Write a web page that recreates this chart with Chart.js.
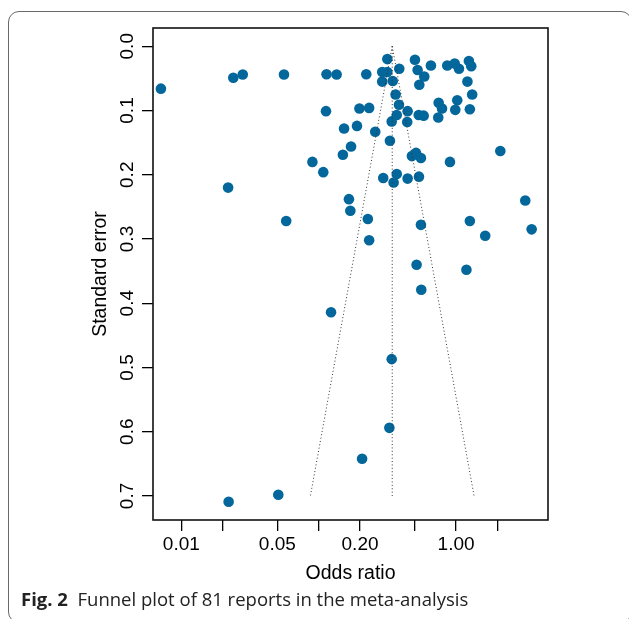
<!DOCTYPE html>
<html>
<head>
<meta charset="utf-8">
<script src="https://cdn.jsdelivr.net/npm/chart.js@4"></script>
<style>
  html, body { margin: 0; padding: 0; background: #fff; overflow: hidden; }
  #page { position: relative; width: 629px; height: 619px; overflow: hidden; }
  #frame {
    position: absolute; left: 8px; top: 11px; width: 624px; height: 612px;
    box-sizing: border-box; border: 1.3px solid #6a6a6a; border-radius: 11px;
  }
  #chart { position: absolute; left: 0; top: 0; }
  #caption {
    position: absolute; left: 21px; top: 590px; white-space: nowrap;
    font-family: "Open Sans", "Noto Sans", sans-serif; font-size: 18.5px; line-height: 18px; color: #222;
  }
  #caption b { font-weight: 700; }
</style>
</head>
<body>
<div id="page">
  <div id="frame"></div>
  <canvas id="chart" width="629" height="590"></canvas>
  <div id="caption"><b>Fig. 2</b>&nbsp; Funnel plot of 81 reports in the meta-analysis</div>
</div>
<script>
// Odds ratio and standard error of each report
const oddsRatios = [
  0.0071, 0.0239, 0.028, 0.0559, 0.114, 0.135, 0.222, 0.316, 0.386, 0.29,
  0.316, 0.29, 0.346, 0.363, 0.384, 0.37, 0.34, 0.444, 0.441, 0.33,
  0.502, 0.525, 0.587, 0.54, 0.656, 0.863, 0.977, 1.05, 1.24, 1.29,
  1.21, 1.31, 0.747, 0.79, 1.02, 0.987, 1.26, 0.535, 0.581, 0.742,
  0.113, 0.198, 0.233, 0.153, 0.19, 0.258, 0.172, 0.15, 0.09, 0.108,
  0.0219, 2.1, 0.903, 0.477, 0.511, 0.555, 0.295, 0.37, 0.351, 0.444,
  0.537, 3.19, 0.166, 0.17, 0.058, 0.228, 0.233, 0.555, 1.26, 3.55,
  1.63, 0.516, 1.19, 0.558, 0.123, 0.34, 0.327, 0.207, 0.0508, 0.0221
];
const standardErrors = [
  0.066, 0.049, 0.044, 0.044, 0.0435, 0.044, 0.0435, 0.02, 0.035, 0.04,
  0.04, 0.055, 0.054, 0.075, 0.091, 0.107, 0.117, 0.101, 0.118, 0.147,
  0.021, 0.037, 0.047, 0.06, 0.03, 0.03, 0.027, 0.035, 0.023, 0.031,
  0.055, 0.075, 0.088, 0.097, 0.084, 0.099, 0.098, 0.107, 0.108, 0.111,
  0.101, 0.097, 0.096, 0.128, 0.124, 0.133, 0.156, 0.169, 0.18, 0.196,
  0.22, 0.163, 0.18, 0.171, 0.166, 0.174, 0.205, 0.199, 0.212, 0.206,
  0.203, 0.24, 0.238, 0.256, 0.272, 0.269, 0.302, 0.278, 0.272, 0.285,
  0.295, 0.34, 0.348, 0.379, 0.414, 0.487, 0.594, 0.642, 0.698, 0.709
];

// Funnel (pooled estimate and 95% limits)
const funnelSE = [0, 0.70];
const funnelCenterOR = [0.343, 0.343];
const funnelLowerOR = [0.343, 0.087];
const funnelUpperOR = [0.343, 1.353];

// Axes
const xTickValues = [0.01, 0.02, 0.05, 0.1, 0.2, 0.5, 1, 2];
const xTickLabels = ["0.01", "", "0.05", "", "0.20", "", "1.00", ""];
const yTickValues = [0, 0.1, 0.2, 0.3, 0.4, 0.5, 0.6, 0.7];
const yTickLabels = ["0.0", "0.1", "0.2", "0.3", "0.4", "0.5", "0.6", "0.7"];

const axisFont = { family: "'Liberation Sans', Arial, sans-serif", size: 19 };
const titleFont = { family: "'Liberation Sans', Arial, sans-serif", size: 19.5 };

function toPoints(xs, ys) {
  return xs.map((x, i) => ({ x: x, y: ys[i] }));
}

const dotted = {
  type: "scatter",
  showLine: true,
  pointRadius: 0,
  borderColor: "#333",
  borderWidth: 1,
  borderDash: [1, 2.4],
  fill: false,
};

// Caixa em volta da área do gráfico
const boxPlugin = {
  id: "box",
  afterDraw(chart) {
    const a = chart.chartArea;
    const ctx = chart.ctx;
    ctx.save();
    ctx.strokeStyle = "#111";
    ctx.lineWidth = 1.6;
    ctx.strokeRect(a.left, a.top, a.right - a.left, a.bottom - a.top);
    ctx.restore();
  },
};

new Chart(document.getElementById("chart").getContext("2d"), {
  type: "scatter",
  data: {
    datasets: [
      Object.assign({ data: toPoints(funnelCenterOR, funnelSE) }, dotted),
      Object.assign({ data: toPoints(funnelLowerOR, funnelSE) }, dotted),
      Object.assign({ data: toPoints(funnelUpperOR, funnelSE) }, dotted),
      {
        data: toPoints(oddsRatios, standardErrors),
        pointRadius: 5.3,
        pointBackgroundColor: "#03679b",
        pointBorderColor: "#03679b",
        pointBorderWidth: 0,
      },
    ],
  },
  options: {
    responsive: false,
    animation: false,
    layout: { padding: { top: 28, right: 81, left: 0, bottom: 0 } },
    plugins: { legend: { display: false }, tooltip: { enabled: false } },
    scales: {
      x: {
        type: "logarithmic",
        min: 0.00622,
        max: 4.67,
        afterBuildTicks(scale) {
          scale.ticks = xTickValues.map((v) => ({ value: v }));
        },
        afterFit(scale) {
          scale.height = 70;
        },
        ticks: {
          autoSkip: false,
          maxRotation: 0,
          padding: 2,
          color: "#000",
          font: axisFont,
          callback: (value, index) => xTickLabels[index],
        },
        grid: { drawOnChartArea: false, tickLength: 11, color: "#000", lineWidth: 1.3 },
        border: { display: false },
        title: {
          display: true,
          text: "Odds ratio",
          color: "#000",
          font: titleFont,
          padding: { top: 0, bottom: 5 },
        },
      },
      y: {
        reverse: true,
        min: -0.0284,
        max: 0.7374,
        afterBuildTicks(scale) {
          scale.ticks = yTickValues.map((v) => ({ value: v }));
        },
        afterFit(scale) {
          scale.width = 153;
        },
        ticks: {
          autoSkip: false,
          minRotation: 90,
          maxRotation: 90,
          crossAlign: "center",
          padding: 1,
          color: "#000",
          font: axisFont,
          callback: (value, index) => yTickLabels[index],
        },
        grid: { drawOnChartArea: false, tickLength: 11, color: "#000", lineWidth: 1.3 },
        border: { display: false },
        title: {
          display: true,
          text: "Standard error",
          color: "#000",
          font: titleFont,
          padding: { top: 89, bottom: 0 },
        },
      },
    },
  },
  plugins: [boxPlugin],
});
</script>
</body>
</html>
